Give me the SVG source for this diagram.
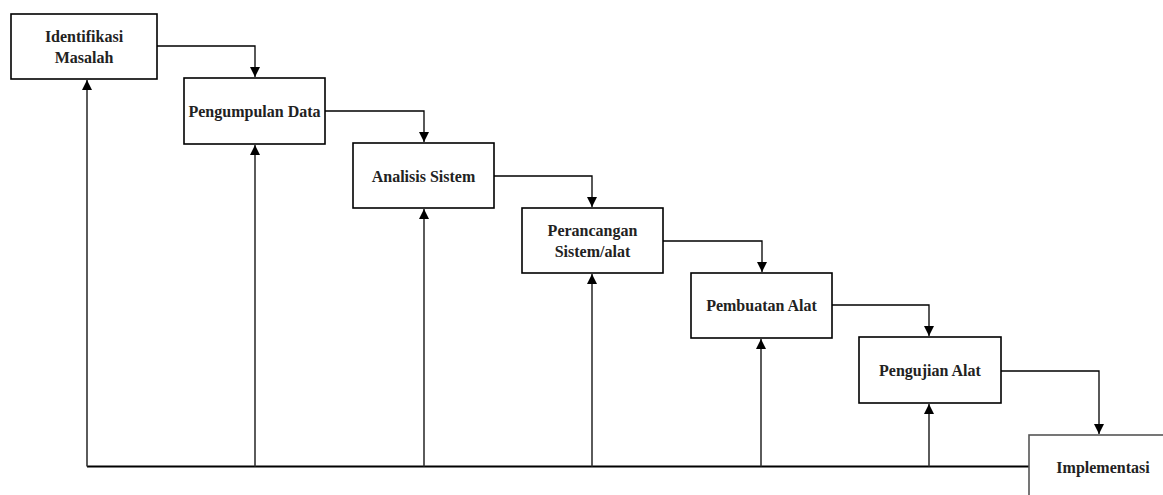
<svg xmlns="http://www.w3.org/2000/svg" width="1163" height="495" viewBox="0 0 1163 495">
<style>
.box{fill:#fff;stroke:#000;stroke-width:1.6}
.t{font-family:"Liberation Serif","Times New Roman",serif;font-weight:bold;font-size:16px;fill:#222;text-anchor:middle}
.c{fill:none;stroke:#000;stroke-width:1.3}
.u{fill:none;stroke:#333;stroke-width:1.6}
.b{fill:none;stroke:#000;stroke-width:2.2}
</style>
<defs>
<marker id="ah" markerUnits="userSpaceOnUse" markerWidth="10" markerHeight="10" refX="10" refY="5" orient="auto" viewBox="0 0 10 10">
<path d="M0,0 L10,5 L0,10 z" fill="#000"/>
</marker>
</defs>
<rect width="1163" height="495" fill="#fff"/>
<g id="connectors">
<path class="c" d="M157,46 H255 V77" marker-end="url(#ah)"/>
<path class="c" d="M325,111 H424 V142" marker-end="url(#ah)"/>
<path class="c" d="M494,176 H592 V207" marker-end="url(#ah)"/>
<path class="c" d="M663,241 H762 V272" marker-end="url(#ah)"/>
<path class="c" d="M832,305 H929 V336" marker-end="url(#ah)"/>
<path class="c" d="M1001,371 H1099 V434" marker-end="url(#ah)"/>
<path class="b" d="M87,466.5 H1029"/>
<path class="u" d="M87,466.5 V80" marker-end="url(#ah)"/>
<path class="u" d="M255,466.5 V145" marker-end="url(#ah)"/>
<path class="u" d="M424,466.5 V209" marker-end="url(#ah)"/>
<path class="u" d="M592,466.5 V274" marker-end="url(#ah)"/>
<path class="u" d="M761,466.5 V339" marker-end="url(#ah)"/>
<path class="u" d="M929,466.5 V404" marker-end="url(#ah)"/>
</g>
<g id="identifikasi-masalah">
<rect class="box" x="11" y="14" width="146" height="65"/>
<text class="t" x="84" y="42">Identifikasi</text>
<text class="t" x="84" y="63">Masalah</text>
</g>
<g id="pengumpulan-data">
<rect class="box" x="184" y="78" width="141" height="66"/>
<text class="t" x="254.5" y="117">Pengumpulan Data</text>
</g>
<g id="analisis-sistem">
<rect class="box" x="353" y="143" width="141" height="65"/>
<text class="t" x="423.5" y="182">Analisis Sistem</text>
</g>
<g id="perancangan">
<rect class="box" x="522" y="208" width="141" height="65"/>
<text class="t" x="592.5" y="236">Perancangan</text>
<text class="t" x="592.5" y="257">Sistem/alat</text>
</g>
<g id="pembuatan-alat">
<rect class="box" x="691" y="273" width="141" height="65"/>
<text class="t" x="761.5" y="311">Pembuatan Alat</text>
</g>
<g id="pengujian-alat">
<rect class="box" x="859" y="337" width="142" height="66"/>
<text class="t" x="930" y="376">Pengujian Alat</text>
</g>
<g id="implementasi">
<rect x="1029" y="435" width="200" height="100" fill="#fff" stroke="#555" stroke-width="1.6"/>
<text class="t" x="1103" y="473">Implementasi</text>
</g>
</svg>
